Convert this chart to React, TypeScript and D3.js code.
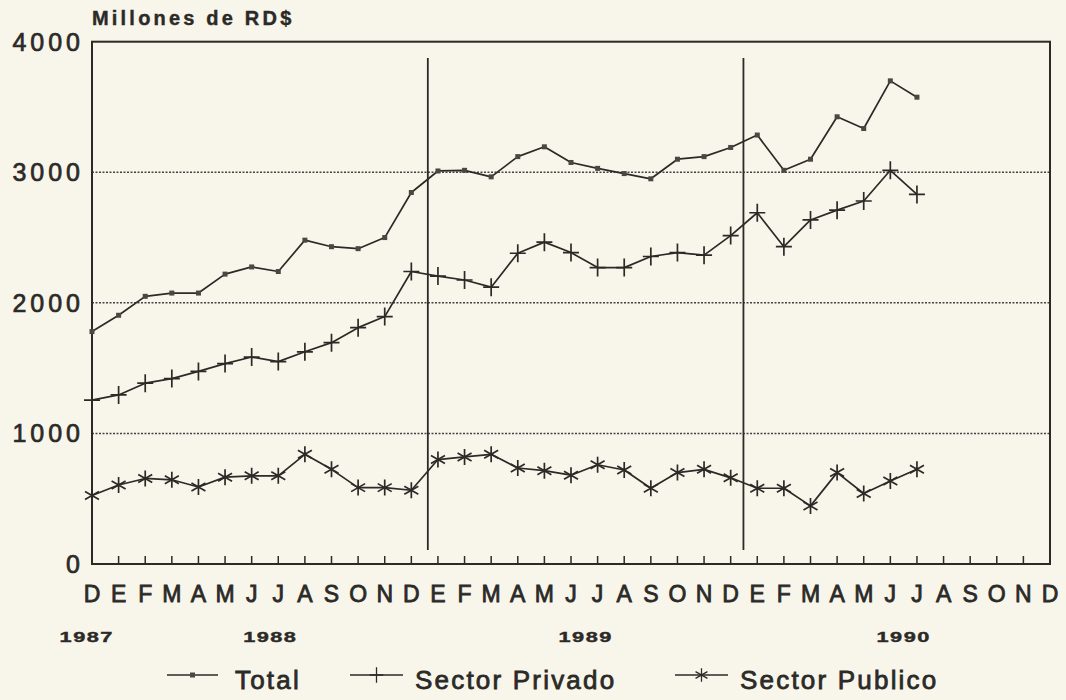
import React, { useEffect, useRef } from 'react';
import * as d3 from 'd3';

// month labels, Dec 1987 .. Dec 1990
const monthLabels = [
  'D',
  'E', 'F', 'M', 'A', 'M', 'J', 'J', 'A', 'S', 'O', 'N', 'D',
  'E', 'F', 'M', 'A', 'M', 'J', 'J', 'A', 'S', 'O', 'N', 'D',
  'E', 'F', 'M', 'A', 'M', 'J', 'J', 'A', 'S', 'O', 'N', 'D',
];

const yearLabels = ['1987', '1988', '1989', '1990'];
const yearLabelPos = [-0.2, 6.7, 18.55, 30.5];
const yearBreaks = [12.62, 24.48];

const yTicks = [0, 1000, 2000, 3000, 4000];
const gridValues = [1000, 2000, 3000];

// millones de RD$
const total = [
  1780,
  1905, 2050, 2075, 2075, 2220, 2275, 2240, 2480, 2430, 2415, 2500, 2845,
  3010, 3015, 2965, 3120, 3195, 3075, 3030, 2990, 2950, 3100, 3120, 3190,
  3285, 3015, 3100, 3425, 3335, 3700, 3575,
];
const privado = [
  1255,
  1295, 1385, 1420, 1475, 1535, 1585, 1550, 1625, 1695, 1810, 1895, 2240,
  2205, 2175, 2120, 2380, 2465, 2385, 2270, 2270, 2355, 2385, 2365, 2515,
  2690, 2430, 2635, 2710, 2780, 3015, 2830,
];
const publico = [
  525,
  605, 655, 645, 590, 665, 675, 675, 840, 725, 585, 585, 565,
  800, 820, 840, 735, 715, 680, 760, 720, 580, 700, 725, 660,
  580, 580, 445, 700, 540, 635, 725,
];

const seriesNames = ['Total', 'Sector Privado', 'Sector Publico'];

const INK = '#2b2a27';
const FONT = 'Liberation Sans, Arial, Helvetica, sans-serif';

const App = () => {
  const ref = useRef<SVGSVGElement>(null);

  useEffect(() => {
    const svg = d3.select(ref.current);
    svg.selectAll('*').remove();

    const x = d3.scaleLinear().domain([0, 36]).range([92, 1050]);
    const y = d3.scaleLinear().domain([0, 4000]).range([564, 41.7]);

    // dotted gridlines
    svg.append('g')
      .selectAll('line')
      .data(gridValues)
      .enter()
      .append('line')
      .attr('x1', x(0))
      .attr('x2', x(36))
      .attr('y1', d => y(d))
      .attr('y2', d => y(d))
      .attr('stroke', '#444')
      .attr('stroke-width', 1.5)
      .attr('stroke-dasharray', '2,1.5');

    // frame
    svg.append('rect')
      .attr('x', x(0))
      .attr('y', y(4000))
      .attr('width', x(36) - x(0))
      .attr('height', y(0) - y(4000))
      .attr('fill', 'none')
      .attr('stroke', INK)
      .attr('stroke-width', 2);

    // month ticks
    svg.append('g')
      .selectAll('line')
      .data(d3.range(1, 36))
      .enter()
      .append('line')
      .attr('x1', d => x(d))
      .attr('x2', d => x(d))
      .attr('y1', y(0))
      .attr('y2', y(0) - 8)
      .attr('stroke', INK)
      .attr('stroke-width', 1.5);

    // year separators
    svg.append('g')
      .selectAll('line')
      .data(yearBreaks)
      .enter()
      .append('line')
      .attr('x1', d => x(d))
      .attr('x2', d => x(d))
      .attr('y1', 58)
      .attr('y2', 550)
      .attr('stroke', INK)
      .attr('stroke-width', 1.8);

    // y labels
    svg.append('g')
      .selectAll('text')
      .data(yTicks)
      .enter()
      .append('text')
      .attr('x', 84)
      .attr('y', d => y(d) + 9)
      .attr('text-anchor', 'end')
      .attr('font-family', FONT)
      .attr('font-size', 25)
      .attr('letter-spacing', 4)
      .attr('fill', INK)
      .attr('stroke', INK)
      .attr('stroke-width', 0.7)
      .text(d => d);

    svg.append('text')
      .attr('x', 92)
      .attr('y', 25)
      .attr('font-family', FONT)
      .attr('font-size', 20)
      .attr('font-weight', 'bold')
      .attr('letter-spacing', 3.2)
      .attr('fill', INK)
      .attr('stroke', INK)
      .attr('stroke-width', 0.4)
      .text('Millones de RD$');

    // month labels
    svg.append('g')
      .selectAll('text')
      .data(monthLabels)
      .enter()
      .append('text')
      .attr('x', (d, i) => x(i))
      .attr('y', 602)
      .attr('text-anchor', 'middle')
      .attr('font-family', FONT)
      .attr('font-size', 23)
      .attr('fill', INK)
      .attr('stroke', INK)
      .attr('stroke-width', 0.8)
      .text(d => d);

    // year labels (wide bold)
    svg.append('g')
      .selectAll('text')
      .data(yearLabels)
      .enter()
      .append('text')
      .attr('transform', (d, i) => `translate(${x(yearLabelPos[i])},642) scale(1.45,1)`)
      .attr('text-anchor', 'middle')
      .attr('font-family', FONT)
      .attr('font-size', 15)
      .attr('font-weight', 'bold')
      .attr('letter-spacing', 1)
      .attr('fill', INK)
      .attr('stroke', INK)
      .attr('stroke-width', 0.4)
      .text(d => d);

    const line = d3.line<number>()
      .x((d, i) => x(i))
      .y(d => y(d));

    const plusPath = 'M-8,0H8M0,-9V9';
    const starPath = 'M0,-8V8M-7,-4L7,4M-7,4L7,-4';

    const drawSeries = (values: number[], kind: string) => {
      const g = svg.append('g');
      g.append('path')
        .datum(values)
        .attr('d', line)
        .attr('fill', 'none')
        .attr('stroke', INK)
        .attr('stroke-width', 1.7)
        .attr('stroke-linejoin', 'round');
      const pts = g.selectAll('.m')
        .data(values)
        .enter();
      if (kind === 'dot') {
        pts.append('rect')
          .attr('x', (d, i) => x(i) - 2.5)
          .attr('y', d => y(d) - 2.5)
          .attr('width', 5)
          .attr('height', 5)
          .attr('fill', '#4a4843');
      } else {
        pts.append('path')
          .attr('transform', (d, i) => `translate(${x(i)},${y(d)})`)
          .attr('d', kind === 'plus' ? plusPath : starPath)
          .attr('stroke', INK)
          .attr('stroke-width', 1.7)
          .attr('fill', 'none');
      }
    };

    drawSeries(total, 'dot');
    drawSeries(privado, 'plus');
    drawSeries(publico, 'star');

    // legend
    const legendItems = [
      { name: seriesNames[0], kind: 'dot', x1: 167, x2: 218, tx: 235 },
      { name: seriesNames[1], kind: 'plus', x1: 350, x2: 403, tx: 415 },
      { name: seriesNames[2], kind: 'star', x1: 675, x2: 728, tx: 740 },
    ];
    const lg = svg.append('g');
    legendItems.forEach(it => {
      const cy = 675;
      const cx = (it.x1 + it.x2) / 2;
      lg.append('line')
        .attr('x1', it.x1)
        .attr('x2', it.x2)
        .attr('y1', cy)
        .attr('y2', cy)
        .attr('stroke', INK)
        .attr('stroke-width', 1.4);
      if (it.kind === 'dot') {
        lg.append('rect')
          .attr('x', cx - 2.5)
          .attr('y', cy - 2.5)
          .attr('width', 5)
          .attr('height', 5)
          .attr('fill', '#4a4843');
      } else {
        lg.append('path')
          .attr('transform', `translate(${cx},${cy}) scale(0.85)`)
          .attr('d', it.kind === 'plus' ? plusPath : starPath)
          .attr('stroke', INK)
          .attr('stroke-width', 1.5)
          .attr('fill', 'none');
      }
      lg.append('text')
        .attr('x', it.tx)
        .attr('y', 689)
        .attr('font-family', FONT)
        .attr('font-size', 26)
        .attr('letter-spacing', 2.2)
        .attr('fill', INK)
        .attr('stroke', INK)
        .attr('stroke-width', 0.8)
        .text(it.name);
    });
  }, []);

  return (
    <svg
      ref={ref}
      width={1066}
      height={700}
      style={{ position: 'absolute', left: 0, top: 0, background: '#f8f5eb' }}
    ></svg>
  );
};

export default App;
